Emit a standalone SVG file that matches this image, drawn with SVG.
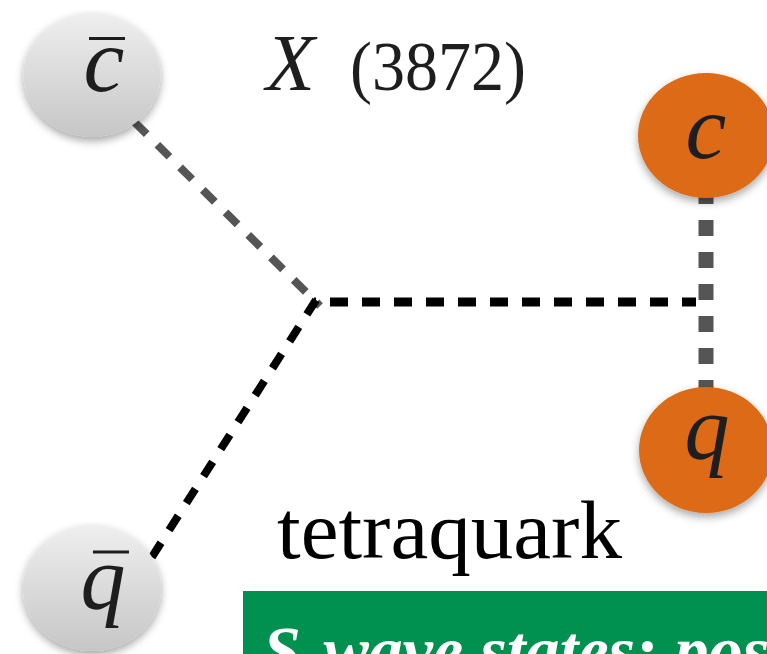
<svg xmlns="http://www.w3.org/2000/svg" width="767" height="654" viewBox="0 0 767 654">
<style>
.glyph{font-family:"Liberation Serif","Times New Roman",serif;font-style:italic;fill:#1e1e1e;text-anchor:middle}
.bar{stroke:#1e1e1e;stroke-width:3}
.gray{fill:url(#grayGrad);filter:url(#shadow)}
.orange{fill:#DD6A12;filter:url(#shadow)}
.dg{stroke:#555555;fill:none}
.db{stroke:#000000;fill:none}
</style>
<defs>
<linearGradient id="grayGrad" x1="0" y1="0" x2="0" y2="1">
<stop offset="0" stop-color="#efefef"/>
<stop offset="1" stop-color="#c6c6c6"/>
</linearGradient>
<filter id="shadow" x="-20%" y="-20%" width="140%" height="150%">
<feDropShadow dx="0" dy="4" stdDeviation="4" flood-color="#000" flood-opacity="0.35"/>
</filter>
</defs>
<rect width="767" height="654" fill="#ffffff"/>
<g id="connectors">
<line class="dg" x1="92" y1="80" x2="320" y2="306" stroke-width="8" stroke-dasharray="17 15" stroke-dashoffset="4"/>
<line class="db" x1="316" y1="300" x2="150" y2="560" stroke-width="8" stroke-dasharray="17 15"/>
<line class="db" x1="314" y1="302" x2="696" y2="302" stroke-width="9" stroke-dasharray="18 14" stroke-dashoffset="16"/>
<line class="dg" x1="706" y1="188" x2="706" y2="400" stroke-width="15" stroke-dasharray="16 16"/>
</g>
<g id="node-cbar">
<ellipse class="gray" cx="92" cy="75" rx="68.5" ry="62"/>
<line class="bar" x1="89" y1="38.5" x2="125" y2="38.5"/>
<text class="glyph" x="104" y="91" font-size="92">c</text>
</g>
<g id="node-qbar">
<ellipse class="gray" cx="92" cy="588" rx="69" ry="63"/>
<line class="bar" x1="93" y1="552" x2="129" y2="552"/>
<text class="glyph" x="103" y="609" font-size="90">q</text>
</g>
<g id="node-c">
<ellipse class="orange" cx="706" cy="135.5" rx="68" ry="62.5"/>
<text class="glyph" x="706" y="158" font-size="92">c</text>
</g>
<g id="node-q">
<ellipse class="orange" cx="706" cy="450" rx="67" ry="63"/>
<text class="glyph" x="707" y="459" font-size="90">q</text>
</g>
<g id="title">
<text x="266" y="90" font-family="'Liberation Serif','Times New Roman',serif" font-style="italic" font-size="80" fill="#1e1e1e">X</text>
<text x="350" y="90" font-family="'Liberation Serif','Times New Roman',serif" font-size="70" fill="#1e1e1e" textLength="176" lengthAdjust="spacingAndGlyphs">(3872)</text>
</g>
<g id="label-tetraquark">
<text x="277" y="558" font-family="'Liberation Serif','Times New Roman',serif" font-size="82" fill="#000000" textLength="345" lengthAdjust="spacingAndGlyphs">tetraquark</text>
</g>
<g id="green-box">
<rect x="243" y="591" width="530" height="70" fill="#009050"/>
<text x="263" y="673" font-family="'Liberation Serif','Times New Roman',serif" font-style="italic" font-weight="bold" font-size="68" fill="#ffffff">S-wave states: pos</text>
</g>
</svg>
